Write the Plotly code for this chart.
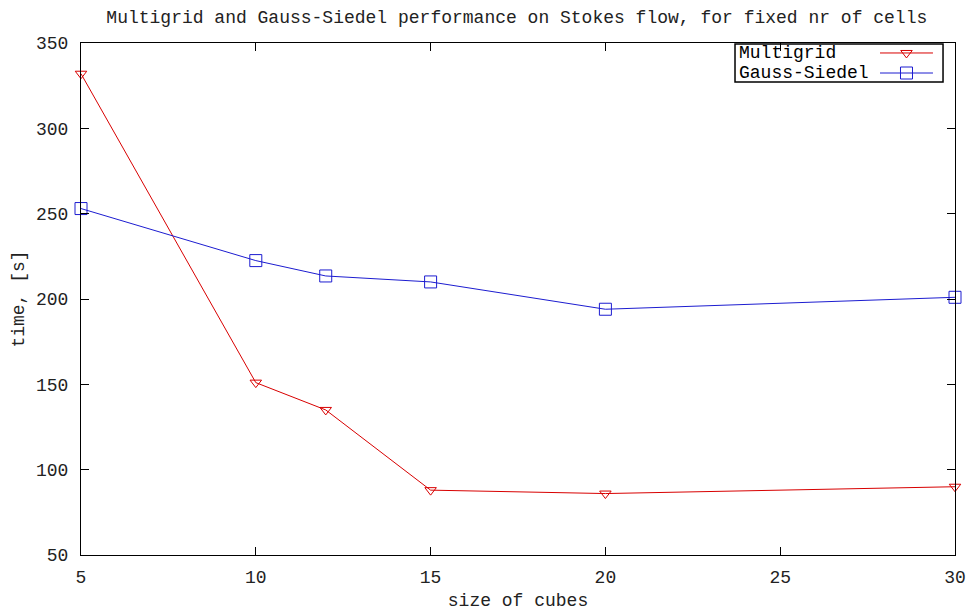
import plotly.graph_objects as go

# Timing results: cube size vs. wall-clock time
cube_sizes = [5, 10, 12, 15, 20, 30]
multigrid_time = [332, 151, 135, 88, 86, 90]
gauss_seidel_time = [253, 222.5, 213.5, 210, 194, 201]

x_ticks = [5, 10, 15, 20, 25, 30]
y_ticks = [50, 100, 150, 200, 250, 300, 350]

series_names = ["Multigrid", "Gauss-Siedel"]
series_colors = ["#d80000", "#1c1cd0"]
series_symbols = ["triangle-down-open", "square-open"]
series_sizes = [10, 12]

FONT = "Liberation Mono"
fig = go.Figure()

for name, ys, color, sym, size in zip(series_names, [multigrid_time, gauss_seidel_time],
                                      series_colors, series_symbols, series_sizes):
    fig.add_trace(go.Scatter(
        x=cube_sizes, y=ys, name=name, mode="lines+markers",
        line=dict(color=color, width=1),
        marker=dict(symbol=sym, size=size, color=color, line=dict(width=1, color=color)),
        cliponaxis=False, showlegend=False,
    ))

# Key box in the upper-right corner, drawn on a unit overlay axis
key_x0, key_x1 = 0.7483, 0.9863
key_rows = [0.9805, 0.9414]
sample_x0, sample_x1 = 0.9142, 0.9748
for name, color, sym, size, ky in zip(series_names, series_colors, series_symbols,
                                      series_sizes, key_rows):
    fig.add_trace(go.Scatter(
        x=[sample_x0, (sample_x0 + sample_x1) / 2, sample_x1], y=[ky, ky, ky],
        mode="lines", line=dict(color=color, width=1),
        xaxis="x2", yaxis="y2", showlegend=False, hoverinfo="skip",
    ))
    fig.add_trace(go.Scatter(
        x=[(sample_x0 + sample_x1) / 2], y=[ky], mode="markers",
        marker=dict(symbol=sym, size=size, color=color, line=dict(width=1, color=color)),
        xaxis="x2", yaxis="y2", showlegend=False, hoverinfo="skip",
    ))
    fig.add_annotation(
        x=key_x0 + 0.002, y=ky, xref="x2", yref="y2", text=name, showarrow=False,
        xanchor="left", yanchor="middle", font=dict(family=FONT, size=18, color="black"),
    )
fig.add_shape(type="rect", xref="x2", yref="y2", x0=key_x0, x1=key_x1, y0=0.9238, y1=0.9980,
              line=dict(color="black", width=1.5))

axis_common = dict(
    showgrid=False, zeroline=False, showline=True, linecolor="black", linewidth=1,
    mirror="ticks", ticks="inside", ticklen=8, tickcolor="black", tickwidth=1,
    tickfont=dict(family=FONT, size=18, color="#222"), automargin=False,
)

fig.update_layout(
    width=966, height=612,
    margin=dict(l=81, r=11, t=43, b=57),
    paper_bgcolor="white", plot_bgcolor="white",
    title=dict(text="Multigrid and Gauss-Siedel performance on Stokes flow, for fixed nr of cells",
               x=0.535, xanchor="center", y=0.972, yanchor="middle",
               font=dict(family=FONT, size=18, color="#222")),
    xaxis=dict(range=[5, 30], tickvals=x_ticks, ticklabelstandoff=5,
               title=dict(text="size of cubes", standoff=6,
                          font=dict(family=FONT, size=18, color="#222")),
               **axis_common),
    yaxis=dict(range=[50, 350], tickvals=y_ticks, ticklabelstandoff=8,
               title=dict(text="time, [s]", standoff=6,
                          font=dict(family=FONT, size=18, color="#222")),
               **axis_common),
    xaxis2=dict(range=[0, 1], overlaying="x", visible=False, fixedrange=True),
    yaxis2=dict(range=[0, 1], overlaying="y", visible=False, fixedrange=True),
)

fig.write_html("out.html")
